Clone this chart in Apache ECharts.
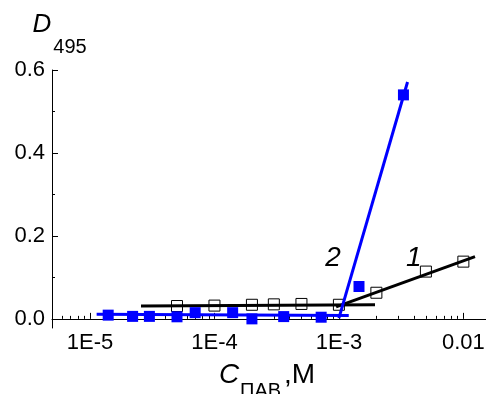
<!DOCTYPE html>
<html>
<head>
<meta charset="utf-8">
<script src="https://cdn.jsdelivr.net/npm/echarts@6/dist/echarts.min.js"></script>
<style>
html, body { margin: 0; padding: 0; background: #fff; }
#chart { width: 486px; height: 394px; }
</style>
</head>
<body>
<div id="chart"></div>
<script>
// Curve 1 - open squares
const conc1 = [5e-5, 1e-4, 2e-4, 3e-4, 5e-4, 1e-3, 2e-3, 5e-3, 1e-2];
const d1 = [0.031, 0.032, 0.034, 0.035, 0.036, 0.034, 0.063, 0.114, 0.138];

// Curve 2 - filled blue squares
const conc2 = [1.4e-5, 2.2e-5, 3e-5, 5e-5, 7e-5, 1.4e-4, 2e-4, 3.6e-4, 7.2e-4, 1.45e-3, 3.3e-3];
const d2 = [0.009, 0.006, 0.006, 0.005, 0.015, 0.015, 0.0, 0.0055, 0.004, 0.078, 0.54];

// Fitted straight lines, end points [C, D]
const fit1Flat = [[2.57e-5, 0.031], [1.95e-3, 0.034]];
const fit1Rise = [[9.5e-4, 0.029], [0.0124, 0.150]];
const fit2Flat = [[1.13e-5, 0.011], [1.2e-3, 0.008]];
const fit2Rise = [[1.0e-3, 0.002], [3.56e-3, 0.571]];

// Curve numbers
const tagConc = [4.0e-3, 8.95e-4];
const tagD = [0.147, 0.147];
const tagText = ['1', '2'];

// Axes
const xMin = 4.95e-6, xMax = 0.0152;
const xMajorTicks = [1e-5, 1e-4, 1e-3, 1e-2];
const xTickLabels = ['1E-5', '1E-4', '1E-3', '0.01'];
const yMin = -0.022, yMax = 0.6;
const yTicks = [0, 0.2, 0.4, 0.6];
const yMinorTicks = [0.1, 0.3, 0.5];

const FONT = "'Liberation Sans', Arial, sans-serif";

// minor ticks 2..9 of every decade, in log10 units
const xMinorLog = [];
for (let n = -6; n <= -2; n++) {
    for (let k = 2; k <= 9; k++) {
        const v = k * Math.pow(10, n);
        if (v > xMin && v < xMax) xMinorLog.push(Math.log10(v));
    }
}

const zip = (xs, ys) => xs.map((x, i) => [x, ys[i]]);

const chart = echarts.init(document.getElementById('chart'));

const lineSeries = (data, color) => ({
    type: 'line',
    data: data,
    symbol: 'none',
    lineStyle: { color: color, width: 3 },
    z: 3,
    silent: true
});

chart.setOption({
    animation: false,
    grid: { left: 52, right: 0, top: 70, bottom: 66, outerBoundsMode: 'none', containLabel: false },
    xAxis: [{
        type: 'log',
        logBase: 10,
        min: xMin,
        max: xMax,
        position: 'bottom',
        axisLine: { lineStyle: { color: '#000', width: 1 } },
        axisTick: { inside: true, length: 6, lineStyle: { color: '#000' } },
        axisLabel: {
            showMinLabel: false,
            showMaxLabel: false,
            margin: 4,
            color: '#000',
            fontFamily: FONT,
            fontSize: 22,
            formatter: v => {
                const i = xMajorTicks.findIndex(t => Math.abs(Math.log10(t) - Math.log10(v)) < 1e-6);
                return i >= 0 ? xTickLabels[i] : '';
            }
        },
        splitLine: { show: false }
    }, {
        // minor ticks only
        type: 'value',
        min: Math.log10(xMin),
        max: Math.log10(xMax),
        position: 'bottom',
        axisLine: { show: false },
        axisTick: { inside: true, length: 3, customValues: xMinorLog, lineStyle: { color: '#000' } },
        axisLabel: { show: false },
        splitLine: { show: false }
    }],
    yAxis: [{
        type: 'value',
        min: yMin,
        max: yMax,
        position: 'left',
        axisLine: { show: true, lineStyle: { color: '#000', width: 1 } },
        axisTick: { show: true, inside: true, length: 6, customValues: yTicks, lineStyle: { color: '#000' } },
        axisLabel: {
            customValues: yTicks,
            margin: 7,
            color: '#000',
            fontFamily: FONT,
            fontSize: 22,
            formatter: v => v.toFixed(1)
        },
        splitLine: { show: false }
    }, {
        type: 'value',
        min: yMin,
        max: yMax,
        position: 'left',
        axisLine: { show: false },
        axisTick: { show: true, inside: true, length: 3, customValues: yMinorTicks, lineStyle: { color: '#000' } },
        axisLabel: { show: false },
        splitLine: { show: false }
    }],
    series: [
        {
            name: '1',
            type: 'scatter',
            data: zip(conc1, d1),
            symbol: 'rect',
            symbolSize: 11,
            itemStyle: { color: '#fff', borderColor: '#000', borderWidth: 1, opacity: 1 },
            z: 2
        },
        {
            name: '2',
            type: 'scatter',
            data: zip(conc2, d2),
            symbol: 'rect',
            symbolSize: 11,
            itemStyle: { color: '#0000ff', opacity: 1 },
            z: 4
        },
        lineSeries(fit1Flat, '#000'),
        lineSeries(fit1Rise, '#000'),
        lineSeries(fit2Flat, '#0000ff'),
        lineSeries(fit2Rise, '#0000ff'),
        {
            type: 'scatter',
            data: zip(tagConc, tagD).map((p, i) => ({ value: p, name: tagText[i] })),
            symbolSize: 0,
            silent: true,
            z: 5,
            itemStyle: { opacity: 1 },
            label: {
                show: true,
                position: 'inside',
                formatter: p => p.name,
                color: '#000',
                textBorderWidth: 0,
                fontFamily: FONT,
                fontStyle: 'italic',
                fontSize: 28
            }
        }
    ],
    graphic: [
        { type: 'text', x: 42, y: 25, style: { text: 'D', font: "italic 26px 'Liberation Sans', Arial", fill: '#000', align: 'center', verticalAlign: 'middle' } },
        { type: 'text', x: 70, y: 47, style: { text: '495', font: "20px 'Liberation Sans', Arial", fill: '#000', align: 'center', verticalAlign: 'middle' } },
        { type: 'text', x: 219, y: 375, style: { text: 'C', font: "italic 28px 'Liberation Sans', Arial", fill: '#000', align: 'left', verticalAlign: 'middle' } },
        { type: 'text', x: 240, y: 391, style: { text: 'ПАВ', font: "20px 'Liberation Sans', Arial", fill: '#000', align: 'left', verticalAlign: 'middle' } },
        { type: 'text', x: 284, y: 375, style: { text: ',M', font: "28px 'Liberation Sans', Arial", fill: '#000', align: 'left', verticalAlign: 'middle' } }
    ]
});
</script>
</body>
</html>
